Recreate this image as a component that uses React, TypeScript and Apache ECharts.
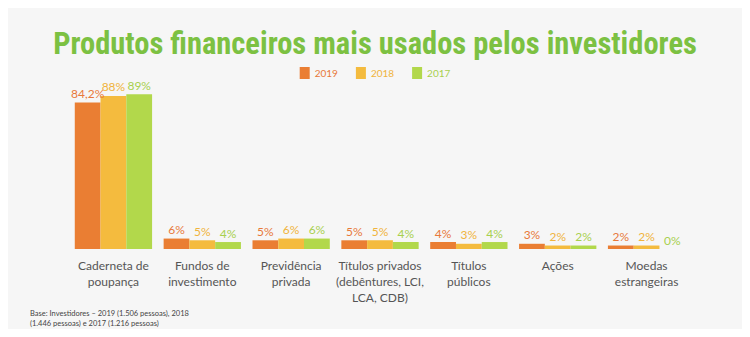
import React, { useEffect, useRef } from "react";
import * as echarts from "echarts";

const categories = [
  "Caderneta de\npoupança",
  "Fundos de\ninvestimento",
  "Previdência\nprivada",
  "Títulos privados\n(debêntures, LCI,\nLCA, CDB)",
  "Títulos\npúblicos",
  "Ações",
  "Moedas\nestrangeiras",
];
const years = ["2019", "2018", "2017"];
const values2019 = [84.2, 6, 5, 5, 4, 3, 2];
const values2018 = [88, 5, 6, 5, 3, 2, 2];
const values2017 = [89, 4, 6, 4, 4, 2, 0];
const colors = ["#ea7e33", "#f4bb3e", "#b2d84b"];
const labelColors = ["#e8793a", "#f0b43c", "#a8d04e"];

export default function App() {
  const ref = useRef<HTMLDivElement>(null);
  useEffect(() => {
    if (!ref.current) return;
    const chart = echarts.init(ref.current, null, { renderer: "svg" });
    const seriesData = [values2019, values2018, values2017];
    const fmt = (v: number) => String(v).replace(".", ",") + "%";
    chart.setOption({
      animation: false,
      backgroundColor: "#f6f6f6",
      title: {
        text: "Produtos financeiros mais usados pelos investidores",
        left: "center",
        top: 23,
        textStyle: {
          fontFamily: "'Liberation Sans Narrow', 'Roboto Condensed', 'Noto Sans', sans-serif",
          fontSize: 30.5,
          fontWeight: "bold",
          color: "#7cc142",
        },
      },
      legend: {
        top: 62,
        left: "center",
        itemWidth: 10,
        itemHeight: 12,
        itemGap: 18,
        icon: "rect",
        data: years.map((y, i) => ({
          name: y,
          textStyle: { color: labelColors[i], fontSize: 10, fontFamily: "Lato, sans-serif" },
        })),
      },
      grid: { left: 69, right: 59, top: 75, bottom: 88 },
      xAxis: {
        type: "category",
        data: categories,
        axisLine: { show: false },
        axisTick: { show: false },
        axisLabel: {
          interval: 0,
          color: "#555",
          fontSize: 12,
          lineHeight: 16,
          margin: 8,
          fontFamily: "Lato, 'Open Sans', sans-serif",
        },
      },
      yAxis: { type: "value", min: 0, max: 100, show: false, splitLine: { show: false } },
      series: seriesData.map((d, i) => ({
        name: years[i],
        type: "bar",
        data: d,
        barGap: "0%",
        barCategoryGap: "13%",
        itemStyle: { color: colors[i] },
        label: {
          show: true,
          position: "top",
          distance: 3,
          color: labelColors[i],
          fontSize: 12,
          fontFamily: "Lato, 'Open Sans', sans-serif",
          formatter: (p: any) => fmt(p.value),
        },
      })),
      graphic: [
        {
          type: "text",
          left: 30,
          top: 308,
          style: {
            text: "Base: Investidores – 2019 (1.506 pessoas), 2018\n(1.446 pessoas) e 2017 (1.216 pessoas)",
            fontSize: 7.5,
            lineHeight: 10,
            fill: "#444",
            fontFamily: "Lato, sans-serif",
          },
        },
      ],
    });
    return () => chart.dispose();
  }, []);
  return <div ref={ref} style={{ width: 750, height: 337, margin: -8 }} />;
}
